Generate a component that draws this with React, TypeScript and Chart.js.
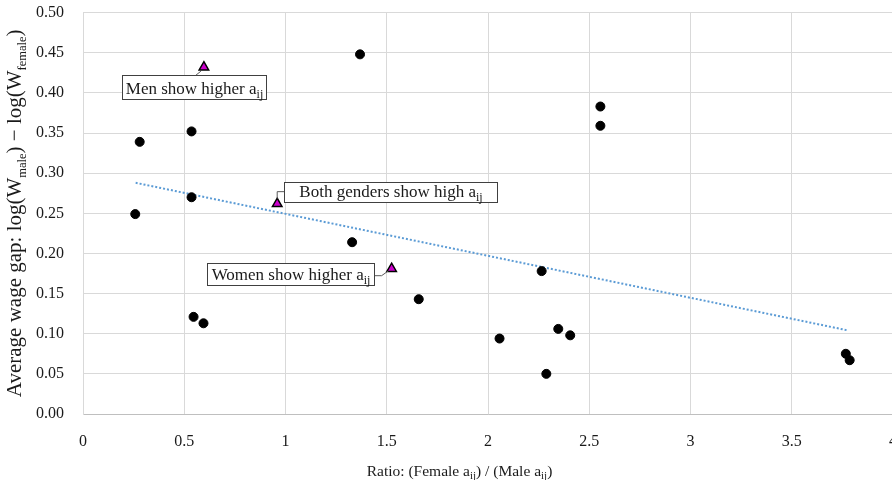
import React, { useEffect, useRef } from 'react';
import { Chart, registerables } from 'chart.js';

Chart.register(...registerables);

// ---- data ----
const ratioDots = [0.258, 0.280, 0.536, 0.536, 0.546, 0.595, 1.368, 1.329, 1.658, 2.057, 2.265, 2.288, 2.347, 2.406, 2.555, 2.555, 3.767, 3.786];
const gapDots = [0.249, 0.339, 0.352, 0.270, 0.121, 0.113, 0.448, 0.214, 0.143, 0.094, 0.178, 0.050, 0.106, 0.098, 0.383, 0.359, 0.075, 0.067];

const highlightText = ['Men show higher a', 'Both genders show high a', 'Women show higher a'];
const highlightSub = ['ij', 'ij', 'ij'];
const highlightRatio = [0.597, 0.959, 1.524];
const highlightGap = [0.432, 0.262, 0.181];

const trendRatio = [0.26, 3.78];
const trendGap = [0.288, 0.104];

const xTickValues = [0, 0.5, 1, 1.5, 2, 2.5, 3, 3.5, 4];
const yTickValues = [0, 0.05, 0.1, 0.15, 0.2, 0.25, 0.3, 0.35, 0.4, 0.45, 0.5];

// ---- callout layout (pixel offsets relative to the marker) ----
const calloutLayout = [
  { dx: -82, dy: 8, w: 144, h: 24, base: 18, path: [[-3, 4], [-8, 8]] },
  { dx: 7, dy: -21.6, w: 213, h: 20, base: 14.5, path: [[0, -5], [0, -12], [7, -12]] },
  { dx: -184.7, dy: -6, w: 167, h: 22, base: 16.5, path: [[-17.7, 7], [-10, 7], [-3, 2]] },
];

// target plot area inside the 892x480 page
const AREA = { left: 83, top: 13, right: 893, bottom: 414 };

const FONT = "'Liberation Serif', 'Times New Roman', serif";
const TEXT_COLOR = '#1a1a1a';

type Seg = { t: string; sub?: boolean };

function measureRich(ctx: CanvasRenderingContext2D, segs: Seg[], size: number, subSize: number) {
  let w = 0;
  for (const s of segs) {
    ctx.font = `${s.sub ? subSize : size}px ${FONT}`;
    w += ctx.measureText(s.t).width;
  }
  return w;
}

function drawRich(ctx: CanvasRenderingContext2D, segs: Seg[], cx: number, baseline: number, size: number, subSize: number) {
  const total = measureRich(ctx, segs, size, subSize);
  let x = cx - total / 2;
  ctx.textAlign = 'left';
  ctx.textBaseline = 'alphabetic';
  ctx.fillStyle = TEXT_COLOR;
  for (const s of segs) {
    ctx.font = `${s.sub ? subSize : size}px ${FONT}`;
    ctx.fillText(s.t, x, baseline + (s.sub ? size * 0.25 : 0));
    x += ctx.measureText(s.t).width;
  }
}

const calloutPlugin = {
  id: 'callouts',
  afterDatasetsDraw(chart: any) {
    const { ctx, scales } = chart;
    ctx.save();
    for (let i = 0; i < highlightText.length; i++) {
      const px = scales.x.getPixelForValue(highlightRatio[i]);
      const py = scales.y.getPixelForValue(highlightGap[i]);
      const L = calloutLayout[i];
      ctx.strokeStyle = '#595959';
      ctx.lineWidth = 1;
      ctx.beginPath();
      L.path.forEach((p, k) => {
        if (k === 0) ctx.moveTo(px + p[0], py + p[1]);
        else ctx.lineTo(px + p[0], py + p[1]);
      });
      ctx.stroke();
      const bx = Math.round(px + L.dx) + 0.5;
      const by = Math.round(py + L.dy) + 0.5;
      ctx.fillStyle = '#ffffff';
      ctx.fillRect(bx, by, L.w, L.h);
      ctx.strokeStyle = '#404040';
      ctx.strokeRect(bx, by, L.w, L.h);
      drawRich(ctx, [{ t: highlightText[i] }, { t: highlightSub[i], sub: true }], bx + L.w / 2, by + L.base, 17, 12);
    }
    ctx.restore();
  },
  afterDraw(chart: any) {
    const { ctx, chartArea } = chart;
    const ox = chartArea.left - AREA.left;
    const oy = chartArea.top - AREA.top;
    ctx.save();
    drawRich(
      ctx,
      [{ t: 'Ratio: (Female a' }, { t: 'ij', sub: true }, { t: ') / (Male a' }, { t: 'ij', sub: true }, { t: ')' }],
      459.5 + ox,
      476 + oy,
      15.5,
      11
    );
    ctx.translate(21 + ox, (chartArea.top + chartArea.bottom) / 2);
    ctx.rotate(-Math.PI / 2);
    drawRich(
      ctx,
      [{ t: 'Average wage gap: log(W' }, { t: 'male', sub: true }, { t: ') \u2212 log(W' }, { t: 'female', sub: true }, { t: ')' }],
      0,
      0,
      21,
      12.5
    );
    ctx.restore();
  },
};

function makeConfig(): any {
  const tickFont = { family: FONT, size: 16 };
  return {
    type: 'scatter',
    data: {
      datasets: [
        {
          label: 'Trend',
          type: 'line',
          data: trendRatio.map((x, i) => ({ x, y: trendGap[i] })),
          borderColor: '#5b9bd5',
          borderWidth: 2,
          borderDash: [2, 2],
          pointRadius: 0,
          fill: false,
          order: 3,
        },
        {
          label: 'Industries',
          data: ratioDots.map((x, i) => ({ x, y: gapDots[i] })),
          pointStyle: 'circle',
          pointRadius: 4.5,
          backgroundColor: '#000000',
          borderColor: '#000000',
          borderWidth: 1,
          order: 2,
        },
        {
          label: 'Highlighted',
          data: highlightRatio.map((x, i) => ({ x, y: highlightGap[i] })),
          pointStyle: 'triangle',
          pointRadius: 5.5,
          backgroundColor: '#cc00cc',
          borderColor: '#000000',
          borderWidth: 1.5,
          order: 1,
        },
      ],
    },
    options: {
      responsive: false,
      animation: false,
      devicePixelRatio: 1,
      layout: { padding: { top: 13, right: 7, left: 0, bottom: 0 } },
      plugins: {
        legend: { display: false },
        tooltip: { enabled: false },
      },
      scales: {
        x: {
          type: 'linear',
          min: 0,
          max: 4,
          afterBuildTicks: (s: any) => {
            s.ticks = xTickValues.map((v) => ({ value: v }));
          },
          afterFit: (s: any) => {
            s.height = 66;
          },
          ticks: {
            font: tickFont,
            color: TEXT_COLOR,
            padding: 18,
            maxRotation: 0,
            autoSkip: false,
            callback: (v: any) => String(v),
          },
          grid: { color: '#d9d9d9', lineWidth: 1, drawTicks: false },
          border: { color: '#bfbfbf' },
        },
        y: {
          type: 'linear',
          min: 0,
          max: 0.5,
          afterBuildTicks: (s: any) => {
            s.ticks = yTickValues.map((v) => ({ value: v }));
          },
          afterFit: (s: any) => {
            s.width = 83;
          },
          ticks: {
            font: tickFont,
            color: TEXT_COLOR,
            padding: 19,
            autoSkip: false,
            callback: (v: any) => Number(v).toFixed(2),
          },
          grid: { color: '#d9d9d9', lineWidth: 1, drawTicks: false },
          border: { color: '#d9d9d9' },
        },
      },
    },
    plugins: [calloutPlugin],
  };
}

export default function App() {
  const ref = useRef<HTMLCanvasElement | null>(null);

  useEffect(() => {
    const canvas = ref.current;
    if (!canvas) return;
    canvas.width = 900;
    canvas.height = 480;
    let chart = new Chart(canvas, makeConfig());
    const a = chart.chartArea;
    const w = Math.round(900 + (AREA.right - AREA.left) - (a.right - a.left));
    const h = Math.round(480 + (AREA.bottom - AREA.top) - (a.bottom - a.top));
    chart.destroy();
    canvas.width = w;
    canvas.height = h;
    chart = new Chart(canvas, makeConfig());
    const b = chart.chartArea;
    canvas.style.left = `${AREA.left - b.left}px`;
    canvas.style.top = `${AREA.top - b.top}px`;
    return () => chart.destroy();
  }, []);

  return (
    <div
      style={{
        position: 'fixed',
        left: 0,
        top: 0,
        width: 892,
        height: 480,
        overflow: 'hidden',
        background: '#ffffff',
      }}
    >
      <canvas ref={ref} style={{ position: 'absolute', left: 0, top: 0, display: 'block' }} />
    </div>
  );
}
